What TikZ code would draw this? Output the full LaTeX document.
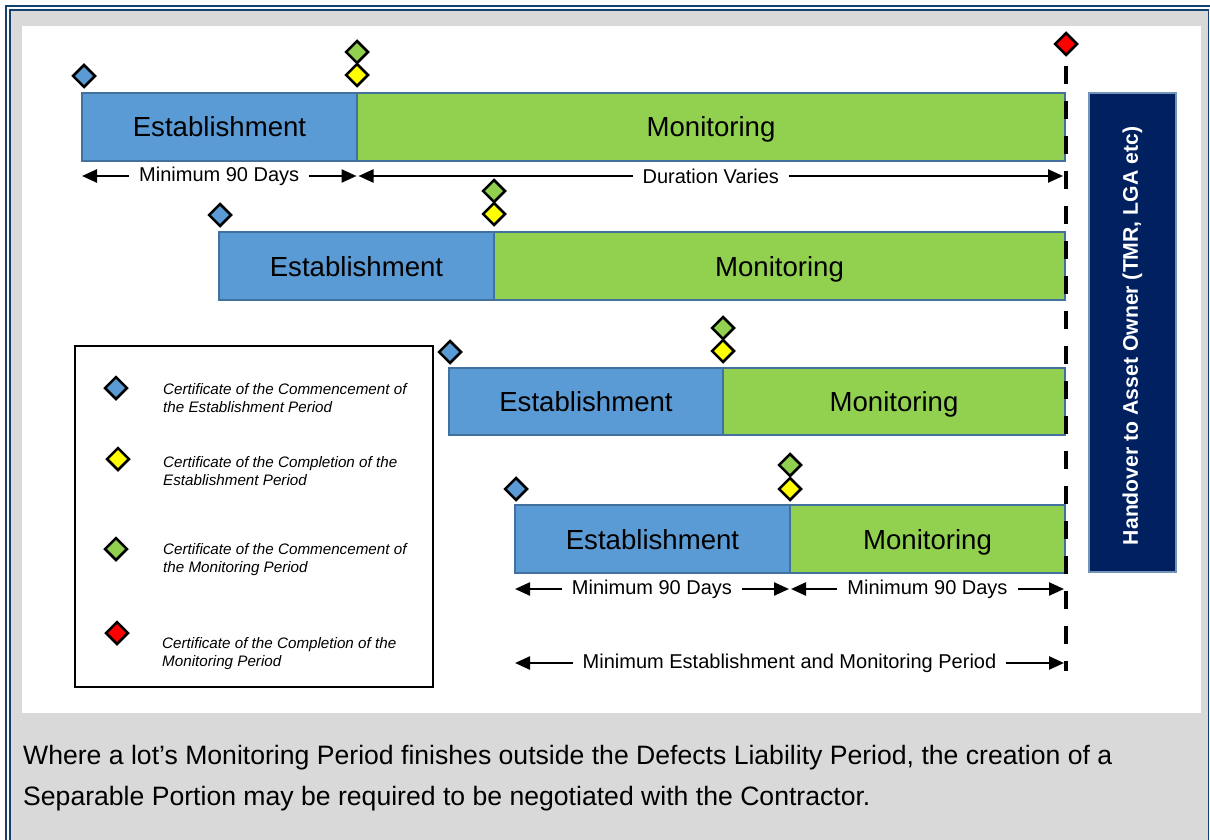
\documentclass[tikz,border=0pt]{standalone}
\usepackage{fontspec}
\setmainfont{Liberation Sans}
\usetikzlibrary{shapes.geometric,arrows.meta}
\definecolor{bord}{HTML}{14416F}
\definecolor{bggray}{HTML}{D9D9D9}
\definecolor{estb}{HTML}{5B9BD5}
\definecolor{mong}{HTML}{92D050}
\definecolor{barline}{HTML}{41719C}
\definecolor{navy}{HTML}{002060}
\definecolor{navyline}{HTML}{7393B8}
\definecolor{dyellow}{HTML}{FFFF00}
\definecolor{dred}{HTML}{FF0000}
\tikzset{
  bar/.style={draw=barline, line width=2pt, inner sep=0pt, minimum height=68pt,
    text height=20pt, text depth=0pt,
    font=\fontsize{27.6}{33}\selectfont},
  estbar/.style={bar, fill=estb, minimum width=275pt},
  monbar/.style={bar, fill=mong},
  dia/.style={diamond, aspect=1, draw=black, line width=2.5pt,
    minimum width=23pt, minimum height=23pt, inner sep=0pt},
  dim/.style={line width=2.4pt,
    {Triangle[length=15pt,width=13pt]}-{Triangle[length=15pt,width=13pt]}},
  dimlabel/.style={fill=white, inner xsep=10pt, inner ysep=2pt,
    font=\fontsize{20}{24}\selectfont},
  dashln/.style={line width=4pt, dash pattern=on 18pt off 17pt},
  legtext/.style={anchor=base west, inner sep=0pt, align=left,
    font=\itshape\fontsize{15.2}{18}\selectfont},
  para/.style={anchor=base west, inner sep=0pt, font=\fontsize{26.6}{32}\selectfont}
}
\begin{document}
\begin{tikzpicture}[x=1pt,y=-1pt]
\useasboundingbox (0,0) rectangle (1210,840);
% background and frame
\fill[white] (0,0) rectangle (1210,840);
\fill[bggray] (10,10) rectangle (1208.5,840);
\draw[bord, line width=2.2pt] (6,841) -- (6,6) -- (1211,6);
\draw[bord, line width=1.3pt] (10,841) -- (10,10) -- (1208.5,10) -- (1208.5,841);
\fill[white] (22,26) rectangle (1201,713);

% bars
\node[estbar] (e1) at (219.5,127) {Establishment};
\node[monbar, minimum width=708pt] (m1) at (711,127) {Monitoring};
\node[estbar] (e2) at (356.5,266) {Establishment};
\node[monbar, minimum width=571pt] (m2) at (779.5,266) {Monitoring};
\node[estbar, minimum height=67pt] (e3) at (586,401.5) {Establishment};
\node[monbar, minimum width=342pt, minimum height=67pt] (m3) at (894,401.5) {Monitoring};
\node[estbar] (e4) at (652.5,539) {Establishment};
\node[monbar, minimum width=275pt] (m4) at (927.5,539) {Monitoring};

% diamonds
\node[dia, fill=estb] (b1) at (84,76) {};
\node[dia, fill=mong] (g1) at (357,52) {};
\node[dia, fill=dyellow] (y1) at (357,75) {};
\node[dia, fill=estb] (b2) at (220,215) {};
\node[dia, fill=mong] (g2) at (494,191) {};
\node[dia, fill=dyellow] (y2) at (494,214) {};
\node[dia, fill=estb] (b3) at (450,352) {};
\node[dia, fill=mong] (g3) at (723,328) {};
\node[dia, fill=dyellow] (y3) at (723,351) {};
\node[dia, fill=estb] (b4) at (516,489) {};
\node[dia, fill=mong] (g4) at (790,465) {};
\node[dia, fill=dyellow] (y4) at (790,489) {};
\node[dia, fill=dred] (red) at (1066,44) {};

% dashed handover line
\coordinate (dbot) at (1066,671);
\draw[dashln, shorten <=9pt] (red.south) -- (dbot);

% dimension arrows
\coordinate (r1a) at (82,176);
\coordinate (r1b) at (356.5,176);
\coordinate (r1c) at (358.5,176);
\coordinate (r1d) at (1063,176);
\draw[dim] (r1a) -- node[dimlabel] {Minimum 90 Days} (r1b);
\draw[dim] (r1c) -- node[dimlabel] {Duration Varies} (r1d);
\coordinate (r4a) at (515,589);
\coordinate (r4b) at (789,589);
\coordinate (r4c) at (791,589);
\coordinate (r4d) at (1064,589);
\draw[dim] (r4a) -- node[dimlabel] {Minimum 90 Days} (r4b);
\draw[dim] (r4c) -- node[dimlabel] {Minimum 90 Days} (r4d);
\coordinate (r5a) at (515,663);
\coordinate (r5b) at (1064,663);
\draw[dim] (r5a) -- node[dimlabel] {Minimum Establishment and Monitoring Period} (r5b);

% handover box
\node[draw=navyline, fill=navy, line width=2pt, rotate=90, minimum width=479pt,
  minimum height=87pt, inner sep=0pt, text=white,
  font=\bfseries\fontsize{21.2}{25}\selectfont] (ho) at (1132.5,332.5)
  {Handover to Asset Owner (TMR, LGA etc)\hspace*{7pt}};

% legend
\node[draw=black, line width=2.5pt, minimum width=358pt, minimum height=341pt,
  inner sep=0pt] (leg) at (254,516.5) {};
\node[dia, fill=estb] (lb) at (116,388) {};
\node[dia, fill=dyellow] (ly) at (118,459) {};
\node[dia, fill=mong] (lg) at (116,549) {};
\node[dia, fill=dred] (lr) at (117,633) {};
\node[legtext] (lt1) at (163,412) {Certificate of the Commencement of\\the Establishment Period};
\node[legtext] (lt2) at (163,485) {Certificate of the Completion of the\\Establishment Period};
\node[legtext] (lt3) at (163,572) {Certificate of the Commencement of\\the Monitoring Period};
\node[legtext] (lt4) at (162,666) {Certificate of the Completion of the\\Monitoring Period};

% paragraph
\node[para] (p1) at (23,764) {Where a lot’s Monitoring Period finishes outside the Defects Liability Period, the creation of a};
\node[para] (p2) at (23,805) {Separable Portion may be required to be negotiated with the Contractor.};
\end{tikzpicture}
\end{document}
